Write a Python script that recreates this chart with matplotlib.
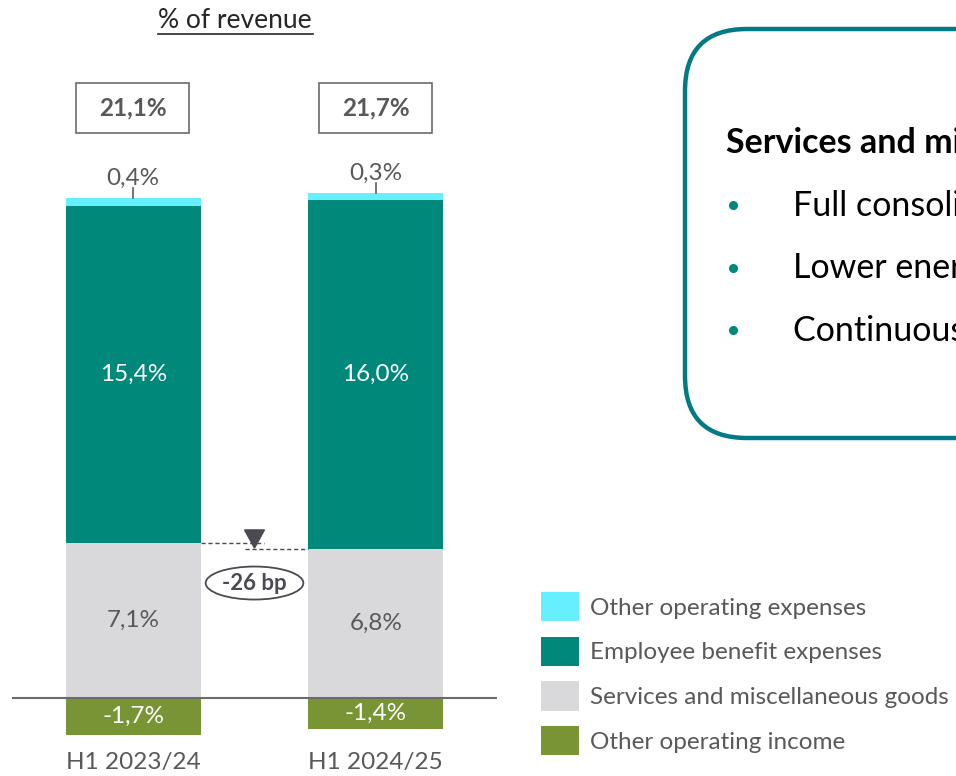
import matplotlib.pyplot as plt
import matplotlib.patches as mpatches
import numpy as np

plt.rcParams['font.family'] = ['Lato', 'DejaVu Sans']

categories = ["H1 2023/24", "H1 2024/25"]
other_income = [-1.7, -1.4]
services = [7.1, 6.8]
employee = [15.4, 16.0]
other_exp = [0.4, 0.3]
totals = [21.1, 21.7]
delta_label = "-26 bp"
series_names = ["Other operating income", "Services and miscellaneous goods",
                "Employee benefit expenses", "Other operating expenses"]
box_title = "Services and miscellaneous goods"
box_bullets = ["Full consolidation", "Lower energy costs", "Continuous improvement"]

c_cyan = "#66F0FF"
c_teal = "#00887A"
c_gray = "#D9D9DB"
c_green = "#789435"
c_text = "#595959"
c_dark = "#4A4A52"

def fmt(v):
    return f"{v:.1f}%".replace(".", ",")

fig = plt.figure(figsize=(9.56, 7.76), dpi=100)
ax = fig.add_axes([12 / 956, 0, 485 / 956, 1])
ax.set_xlim(-0.5, 1.5)
ax.set_ylim(-3.57, 31.94)
ax.axis("off")

x = np.arange(len(categories))
w = 0.556
services = np.array(services)
employee = np.array(employee)
b_inc = ax.bar(x, other_income, w, color=c_green, label=series_names[0])
b_srv = ax.bar(x, services, w, color=c_gray, label=series_names[1])
b_emp = ax.bar(x, employee, w, bottom=services, color=c_teal, label=series_names[2])
top = services + employee
b_oth = ax.bar(x, other_exp, w, bottom=top, color=c_cyan, label=series_names[3])
ax.axhline(0, color="#6b6b6b", lw=1.5, zorder=5)

fs = 17.5
for i in range(len(x)):
    ax.text(x[i], other_income[i] / 2, fmt(other_income[i]), ha="center", va="center",
            color="white", fontsize=fs)
    ax.text(x[i], services[i] / 2, fmt(services[i]), ha="center", va="center",
            color=c_text, fontsize=fs)
    ax.text(x[i], services[i] + employee[i] / 2, fmt(employee[i]), ha="center", va="center",
            color="white", fontsize=fs)
    t = top[i] + other_exp[i]
    ax.plot([x[i], x[i]], [t, t + 0.45], color=c_text, lw=1.2)
    ax.text(x[i], t + 0.9, fmt(other_exp[i]), ha="center", va="center",
            color=c_text, fontsize=fs)
    ax.text(x[i], -2.97, categories[i], ha="center", va="center", color=c_text, fontsize=fs)
    # total box
    ax.add_patch(mpatches.Rectangle((x[i] - 0.235, 25.86), 0.465, 2.29, fill=False,
                                    edgecolor="#6b6b6b", lw=1.2))
    ax.text(x[i], 27.0, fmt(totals[i]), ha="center", va="center", color=c_text,
            fontsize=fs, fontweight="bold")

# delta marker
ax.plot([w / 2, 0.54], [services[0], services[0]], ls=(0, (3, 2)), color=c_dark, lw=1)
ax.plot([0.46, 1 - w / 2], [services[1], services[1]], ls=(0, (3, 2)), color=c_dark, lw=1)
ax.add_patch(mpatches.Polygon([[0.459, 7.69], [0.541, 7.69], [0.5, 6.86]], closed=True,
                              color=c_dark))
ax.add_patch(mpatches.Ellipse((0.5, 5.26), 0.403, 1.51, fill=False, edgecolor=c_dark, lw=1.3))
ax.text(0.5, 5.26, delta_label, ha="center", va="center", color=c_dark, fontsize=16,
        fontweight="bold")

handles = [b_oth, b_emp, b_srv, b_inc]
ax.legend(handles, [h.get_label() for h in handles], loc="upper left",
          bbox_to_anchor=(541 / 956, 1 - 592 / 776), bbox_transform=fig.transFigure,
          frameon=False, borderaxespad=0, borderpad=0, fontsize=fs,
          handlelength=1.57, handleheight=1.47, labelspacing=0.64, handletextpad=0.45,
          labelcolor=c_text)

# overlay in pixel coordinates for title and comment box
ov = fig.add_axes([0, 0, 1, 1])
ov.set_xlim(0, 956)
ov.set_ylim(776, 0)
ov.axis("off")
ov.text(235, 21, "% of revenue", ha="center", va="center", fontsize=19, color="#262626")
ov.plot([158, 313], [34, 34], color="#262626", lw=1.2)

ov.add_patch(mpatches.FancyBboxPatch((685, 29), 400, 409,
                                     boxstyle="round,pad=0,rounding_size=62",
                                     fill=False, edgecolor="#007A85", lw=3.2, clip_on=False))
ov.text(726, 143, box_title, ha="left", va="center", fontsize=24.5, fontweight="bold",
        color="black")
for k, s in enumerate(box_bullets):
    yy = 206 + k * 62.5
    ov.plot(733, yy - 1, "o", color=c_teal, ms=5.5)
    ov.text(793, yy, s, ha="left", va="center", fontsize=24.5, color="black")

fig.savefig("out.png", dpi=100)
